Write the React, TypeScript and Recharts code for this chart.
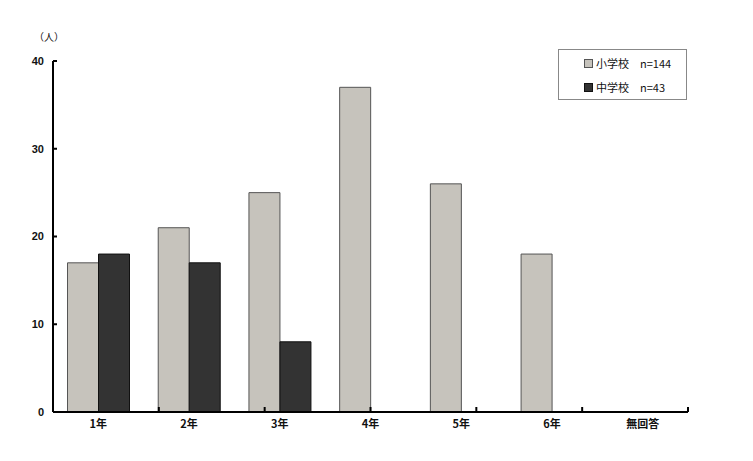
import React from 'react';
import { BarChart, Bar, XAxis, YAxis } from 'recharts';

const grades = ['1年', '2年', '3年', '4年', '5年', '6年', '無回答'];
const elementary = [17, 21, 25, 37, 26, 18, 0];
const juniorHigh = [18, 17, 8, 0, 0, 0, 0];
const yTicks = [0, 10, 20, 30, 40];
const boundaryTicks = [1, 2, 3, 4, 5, 6, 7];

const series = [
  { key: 'elementary', name: '小学校\u3000n=144', fill: '#c6c3bc', stroke: '#555555' },
  { key: 'junior', name: '中学校\u3000n=43', fill: '#333333', stroke: '#111111' },
];

const data = grades.map((g, i) => ({ name: g, elementary: elementary[i], junior: juniorHigh[i] }));

const FONT = '"Noto Sans CJK JP", "DejaVu Sans", sans-serif';

function LegendBox() {
  return (
    <div
      style={{
        position: 'absolute',
        left: 558,
        top: 49,
        width: 127,
        height: 48,
        border: '1px solid #888',
        background: '#fff',
        fontFamily: FONT,
        fontSize: 11,
        color: '#111',
        paddingTop: 1,
      }}
    >
      {series.map((s) => (
        <div key={s.key} style={{ display: 'flex', alignItems: 'center', height: 24, paddingLeft: 25 }}>
          <span
            style={{
              display: 'inline-block',
              width: 7,
              height: 7,
              background: s.fill,
              border: `1px solid ${s.stroke}`,
              marginRight: 3,
            }}
          />
          <span>{s.name}</span>
        </div>
      ))}
    </div>
  );
}

const NoLabel = () => <g />;

export default function App() {
  return (
    <div style={{ position: 'absolute', left: 0, top: 0, width: 753, height: 461, background: '#fff' }}>
      <div
        style={{
          position: 'absolute',
          left: 34,
          top: 29,
          fontFamily: FONT,
          fontSize: 10,
          color: '#111',
        }}
      >
        （人）
      </div>
      <BarChart
        width={753}
        height={461}
        data={data}
        margin={{ top: 61, right: 65, left: 0, bottom: 19 }}
        barCategoryGap="16%"
        barGap={0}
      >
        <XAxis
          xAxisId="edge"
          type="number"
          domain={[0, 7]}
          ticks={boundaryTicks}
          mirror
          height={1}
          tick={NoLabel}
          tickSize={5}
          axisLine={false}
          tickLine={{ stroke: '#000', strokeWidth: 2 }}
        />
        <XAxis
          dataKey="name"
          height={30}
          tickLine={false}
          axisLine={{ stroke: '#000', strokeWidth: 2 }}
          tick={{ fill: '#111', fontSize: 11, fontFamily: FONT, fontWeight: 'bold' }}
          interval={0}
        />
        <YAxis
          width={53}
          domain={[0, 40]}
          ticks={yTicks}
          tickSize={-4}
          tickMargin={13}
          tickLine={{ stroke: '#000', strokeWidth: 2 }}
          axisLine={{ stroke: '#000', strokeWidth: 2 }}
          tick={{ fill: '#111', fontSize: 11, fontFamily: 'Arial, "Liberation Sans", sans-serif', fontWeight: 'bold' }}
        />
        {series.map((s) => (
          <Bar
            key={s.key}
            dataKey={s.key}
            name={s.name}
            fill={s.fill}
            stroke={s.stroke}
            strokeWidth={1}
            isAnimationActive={false}
          />
        ))}
      </BarChart>
      <LegendBox />
    </div>
  );
}
